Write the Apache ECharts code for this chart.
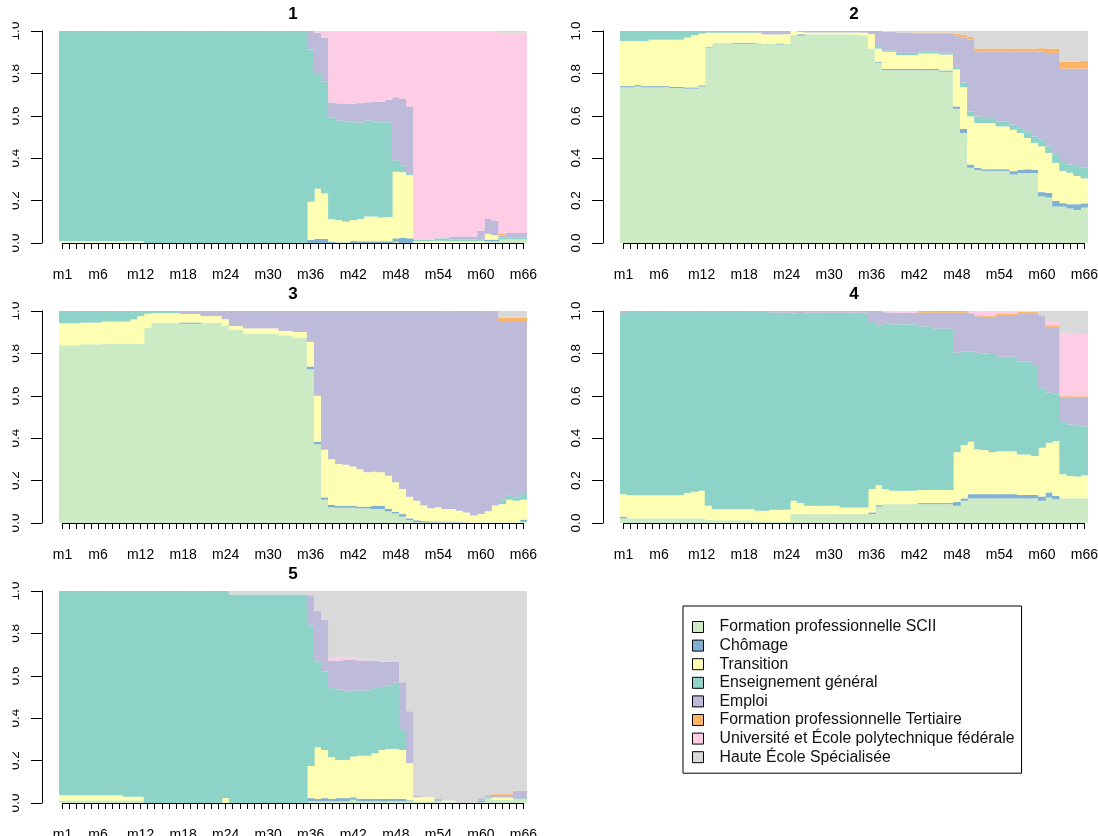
<!DOCTYPE html>
<html>
<head>
<meta charset="utf-8">
<script src="https://cdn.jsdelivr.net/npm/echarts@6/dist/echarts.min.js"></script>
<style>
html, body { margin: 0; padding: 0; background: #fff; }
#chart { width: 1098px; height: 836px; }
</style>
</head>
<body>
<div id="chart"></div>
<script>
// Monthly state distributions for five clusters of trajectories.
const months = ['m1','m2','m3','m4','m5','m6','m7','m8','m9','m10','m11',
  'm12','m13','m14','m15','m16','m17','m18','m19','m20','m21','m22',
  'm23','m24','m25','m26','m27','m28','m29','m30','m31','m32','m33',
  'm34','m35','m36','m37','m38','m39','m40','m41','m42','m43','m44',
  'm45','m46','m47','m48','m49','m50','m51','m52','m53','m54','m55',
  'm56','m57','m58','m59','m60','m61','m62','m63','m64','m65','m66'];

const states = ['Formation professionnelle SCII', 'Chômage', 'Transition', 'Enseignement général',
  'Emploi', 'Formation professionnelle Tertiaire', 'Université et École polytechnique fédérale',
  'Haute École Spécialisée'];
const stateColors = ['#CCEBC5', '#80B1D3', '#FFFFB3', '#8DD3C7', '#BEBADA', '#FDB462', '#FCCDE5', '#D9D9D9'];
const clusterTitles = ['1', '2', '3', '4', '5'];
const yTicks = [0, 0.2, 0.4, 0.6, 0.8, 1.0];

// ---- cluster 1 ----
const c1SCII = [
  .003,.003,.003,.003,.003,.003,.003,.003,.003,.003,.003,
  .003,0,0,0,0,0,0,0,0,0,0,
  0,0,0,0,0,0,0,0,0,0,0,
  0,0,0,0,0,0,0,0,0,0,0,
  0,0,0,.006,0,0,0,0,0,0,0,
  0,0,0,0,0,.008,.008,.016,.017,.017,.017];
const c1Chomage = [
  0,0,0,0,0,0,0,0,0,0,0,
  0,0,0,0,0,0,0,0,0,0,0,
  0,0,0,0,0,0,0,0,0,0,0,
  0,0,.015,.02,.019,.006,.003,.003,.009,.008,.008,
  .008,.008,.008,.016,.025,.022,0,0,0,0,0,
  0,0,0,0,0,.008,.008,0,0,0,0];
const c1Transition = [
  .006,.006,.006,.006,.006,.006,.006,.006,.006,.006,.006,
  .006,0,0,0,0,0,0,0,0,0,0,
  0,0,0,0,0,0,0,0,0,0,0,
  0,0,.18,.236,.215,.106,.105,.097,.1,.105,.117,
  .117,.112,.115,.314,.309,.298,.008,.008,.008,.01,.01,
  .008,.008,.008,.008,.01,.027,.02,0,0,0,0];
const c1Enseignement = [
  .991,.991,.991,.991,.991,.991,.991,.991,.991,.991,.991,
  .991,1,1,1,1,1,1,1,1,1,1,
  1,1,1,1,1,1,1,1,1,1,1,
  1,1,.718,.541,.527,.481,.47,.473,.461,.455,.453,
  .448,.45,.447,.054,.032,.005,.008,.008,.008,.012,.012,
  .008,.008,.008,.008,.008,0,0,.01,.01,.01,.01];
const c1Emploi = [
  0,0,0,0,0,0,0,0,0,0,0,
  0,0,0,0,0,0,0,0,0,0,0,
  0,0,0,0,0,0,0,0,0,0,0,
  0,0,.087,.195,.208,.07,.081,.083,.086,.092,.086,
  .094,.097,.105,.298,.314,.319,0,0,0,0,0,
  .015,.015,.015,.015,.04,.07,.07,.01,.02,.02,.02];
const c1Tertiaire = [
  0,0,0,0,0,0,0,0,0,0,0,
  0,0,0,0,0,0,0,0,0,0,0,
  0,0,0,0,0,0,0,0,0,0,0,
  0,0,0,0,0,0,0,0,0,0,0,
  0,0,0,0,0,0,0,0,0,0,0,
  0,0,0,0,0,0,0,.008,0,0,0];
const c1Universite = [
  0,0,0,0,0,0,0,0,0,0,0,
  0,0,0,0,0,0,0,0,0,0,0,
  0,0,0,0,0,0,0,0,0,0,0,
  0,0,0,.008,.031,.337,.341,.344,.344,.34,.336,
  .333,.333,.325,.312,.32,.356,.984,.984,.984,.978,.978,
  .969,.969,.969,.969,.942,.887,.894,.948,.945,.945,.945];
const c1HES = [
  0,0,0,0,0,0,0,0,0,0,0,
  0,0,0,0,0,0,0,0,0,0,0,
  0,0,0,0,0,0,0,0,0,0,0,
  0,0,0,0,0,0,0,0,0,0,0,
  0,0,0,0,0,0,0,0,0,0,0,
  0,0,0,0,0,0,0,.008,.008,.008,.008];

// ---- cluster 2 ----
const c2SCII = [
  .734,.734,.739,.734,.734,.734,.734,.731,.731,.728,.728,
  .738,.922,.945,.945,.945,.94,.94,.94,.945,.94,.94,
  .936,.94,.982,.978,.985,.985,.985,.985,.985,.985,.985,
  .983,.98,.917,.85,.815,.815,.815,.815,.815,.815,.815,
  .815,.808,.808,.633,.519,.355,.344,.34,.34,.34,.34,
  .323,.33,.33,.33,.22,.214,.172,.172,.163,.156,.167];
const c2Chomage = [
  .006,.006,.006,.006,.006,.006,.006,.006,.006,.006,.006,
  .006,.004,0,0,0,.005,.005,.005,0,0,0,
  .005,0,0,.007,0,0,0,0,0,0,0,
  0,0,0,.005,.006,.006,.006,.006,.006,.006,.006,
  .006,.006,.006,.011,.019,.015,.011,.008,.008,.008,.008,
  .016,.016,.018,.016,.02,.023,.027,.016,.02,.027,.02];
const c2Transition = [
  .213,.213,.208,.213,.219,.219,.219,.222,.222,.235,.246,
  .244,.066,.047,.047,.047,.047,.047,.047,.047,.044,.044,
  .043,.045,.018,.011,.008,.008,.008,.008,.008,.008,.008,
  .01,.012,.069,.062,.081,.081,.065,.065,.065,.073,.073,
  .073,.075,.075,.175,.197,.227,.211,.218,.218,.202,.202,
  .195,.173,.147,.126,.216,.188,.179,.152,.148,.133,.118];
const c2Enseignement = [
  .047,.047,.047,.047,.041,.041,.041,.041,.041,.031,.02,
  .012,.008,.008,.008,.008,.008,.008,.008,0,0,0,
  0,0,0,0,0,0,0,0,0,0,0,
  0,0,0,.013,.007,.007,.011,.011,.011,.008,.008,
  .008,.008,.008,.012,.022,.023,.031,.023,.023,.023,.023,
  .024,.023,.032,.031,.031,.031,.047,.047,.039,.047,.05];
const c2Emploi = [
  0,0,0,0,0,0,0,0,0,0,0,
  0,0,0,0,0,0,0,0,.008,.016,.016,
  .016,.015,0,.004,.007,.007,.007,.007,.007,.007,.007,
  .007,.008,.014,.07,.087,.087,.096,.096,.091,.086,.086,
  .086,.091,.091,.149,.213,.339,.305,.313,.313,.329,.329,
  .344,.36,.375,.399,.416,.441,.472,.436,.453,.46,.468];
const c2Tertiaire = [
  0,0,0,0,0,0,0,0,0,0,0,
  0,0,0,0,0,0,0,0,0,0,0,
  0,0,0,0,0,0,0,0,0,0,0,
  0,0,0,0,0,0,0,0,.005,.005,.005,
  .005,.005,.005,.008,.011,.013,.015,.015,.015,.015,.015,
  .015,.015,.015,.015,.016,.02,.02,.032,.032,.032,.036];
const c2Universite = [
  0,0,0,0,0,0,0,0,0,0,0,
  0,0,0,0,0,0,0,0,0,0,0,
  0,0,0,0,0,0,0,0,0,0,0,
  0,0,0,0,0,0,0,0,0,0,0,
  0,0,0,0,0,0,0,0,0,0,0,
  0,0,0,0,0,0,0,0,0,0,0];
const c2HES = [
  0,0,0,0,0,0,0,0,0,0,0,
  0,0,0,0,0,0,0,0,0,0,0,
  0,0,0,0,0,0,0,0,0,0,0,
  0,0,0,0,.004,.004,.007,.007,.007,.007,.007,
  .007,.007,.007,.012,.019,.028,.083,.083,.083,.083,.083,
  .083,.083,.083,.083,.081,.083,.083,.145,.145,.145,.141];

// ---- cluster 3 ----
const c3SCII = [
  .838,.838,.838,.843,.843,.843,.846,.846,.846,.846,.846,
  .846,.921,.945,.945,.945,.945,.94,.94,.94,.945,.945,
  .945,.929,.911,.911,.893,.893,.893,.893,.893,.885,.885,
  .874,.874,.725,.372,.11,.074,.072,.072,.072,.069,.069,
  .066,.066,.055,.045,.03,.013,.003,.003,.003,.003,.003,
  .003,.003,.003,0,.003,.003,.003,.003,.003,.003,.006];
const c3Chomage = [
  0,0,0,0,0,0,0,0,0,0,0,
  0,0,0,0,0,0,.006,.006,.006,0,0,
  0,0,0,0,0,0,0,0,0,0,0,
  0,0,.013,.011,.011,.011,.008,.008,.008,.008,.008,
  .016,.016,.012,.008,.012,.009,.01,.006,.005,.004,.004,
  .004,.003,0,0,0,0,0,0,0,0,.01];
const c3Transition = [
  .104,.104,.104,.102,.102,.102,.104,.104,.104,.104,.114,
  .13,.066,.045,.045,.045,.045,.04,.04,.04,.031,.031,
  .031,.032,.018,.018,.025,.025,.025,.025,.025,.021,.021,
  .027,.027,.116,.217,.224,.216,.198,.195,.187,.177,.162,
  .16,.157,.156,.139,.118,.102,.092,.073,.061,.067,.059,
  .059,.052,.047,.035,.039,.052,.079,.086,.107,.102,.094];
const c3Enseignement = [
  .058,.058,.058,.055,.055,.055,.05,.05,.05,.05,.04,
  .024,.013,.01,.01,.01,.01,0,0,0,0,0,
  0,0,0,0,0,0,0,0,0,0,0,
  0,0,0,0,0,0,0,0,0,0,0,
  0,0,0,0,0,0,0,0,0,0,0,
  0,0,0,0,0,0,0,.021,.019,.016,.027];
const c3Emploi = [
  0,0,0,0,0,0,0,0,0,0,0,
  0,0,0,0,0,0,.014,.014,.014,.024,.024,
  .024,.039,.071,.071,.082,.082,.082,.082,.082,.094,.094,
  .099,.099,.146,.4,.655,.699,.722,.725,.733,.746,.761,
  .758,.761,.777,.808,.84,.876,.895,.918,.931,.926,.929,
  .929,.942,.95,.965,.958,.94,.913,.843,.824,.832,.816];
const c3Tertiaire = [
  0,0,0,0,0,0,0,0,0,0,0,
  0,0,0,0,0,0,0,0,0,0,0,
  0,0,0,0,0,0,0,0,0,0,0,
  0,0,0,0,0,0,0,0,0,0,0,
  0,0,0,0,0,0,0,0,0,0,.005,
  .005,0,0,0,0,.005,.005,.016,.016,.016,.016];
const c3Universite = [
  0,0,0,0,0,0,0,0,0,0,0,
  0,0,0,0,0,0,0,0,0,0,0,
  0,0,0,0,0,0,0,0,0,0,0,
  0,0,0,0,0,0,0,0,0,0,0,
  0,0,0,0,0,0,0,0,0,0,0,
  0,0,0,0,0,0,0,0,0,0,0];
const c3HES = [
  0,0,0,0,0,0,0,0,0,0,0,
  0,0,0,0,0,0,0,0,0,0,0,
  0,0,0,0,0,0,0,0,0,0,0,
  0,0,0,0,0,0,0,0,0,0,0,
  0,0,0,0,0,0,0,0,0,0,0,
  0,0,0,0,0,0,0,.031,.031,.031,.031];

// ---- cluster 4 ----
const c4SCII = [
  .022,.022,.022,.022,.022,.022,.022,.022,.022,.022,.022,
  .022,.016,.013,.013,.013,.013,.013,.013,.008,.008,.006,
  .006,.006,.042,.042,.042,.042,.042,.042,.042,.042,.042,
  .042,.042,.042,.077,.089,.089,.089,.089,.089,.089,.089,
  .089,.089,.089,.081,.105,.116,.116,.116,.116,.116,.116,
  .116,.116,.116,.116,.105,.12,.112,.117,.117,.117,.117];
const c4Chomage = [
  .008,0,0,0,0,0,0,0,0,0,0,
  0,0,0,0,0,0,0,0,0,0,0,
  0,0,0,0,0,0,0,0,0,0,0,
  0,0,.008,.007,0,0,0,0,0,.005,.005,
  .005,.005,.005,.019,.011,.02,.02,.02,.02,.02,.02,
  .02,.016,.016,.016,.02,.024,.016,0,0,0,0];
const c4Transition = [
  .106,.109,.109,.109,.109,.109,.109,.109,.109,.119,.125,
  .13,.065,.053,.053,.053,.053,.053,.053,.05,.05,.056,
  .056,.056,.063,.052,.039,.039,.039,.039,.039,.031,.031,
  .031,.031,.109,.094,.07,.063,.063,.063,.063,.062,.062,
  .062,.062,.062,.234,.251,.247,.211,.208,.198,.203,.203,
  .203,.191,.191,.184,.23,.234,.258,.113,.105,.102,.108];
const c4Enseignement = [
  .855,.869,.869,.869,.869,.869,.869,.869,.869,.859,.853,
  .848,.919,.934,.934,.934,.934,.934,.934,.942,.942,.93,
  .93,.93,.883,.896,.911,.911,.911,.911,.911,.919,.919,
  .919,.919,.789,.755,.785,.786,.786,.786,.786,.772,.772,
  .761,.761,.761,.469,.441,.425,.456,.456,.463,.445,.445,
  .445,.438,.438,.429,.281,.238,.226,.25,.242,.24,.231];
const c4Emploi = [
  .009,0,0,0,0,0,0,0,0,0,0,
  0,0,0,0,0,0,0,0,0,0,.008,
  .008,.008,.012,.01,.008,.008,.008,.008,.008,.008,.008,
  .008,.008,.052,.067,.05,.054,.054,.054,.054,.064,.064,
  .075,.075,.075,.189,.184,.18,.172,.172,.176,.197,.197,
  .197,.229,.229,.245,.344,.309,.313,.11,.126,.131,.134];
const c4Tertiaire = [
  0,0,0,0,0,0,0,0,0,0,0,
  0,0,0,0,0,0,0,0,0,0,0,
  0,0,0,0,0,0,0,0,0,0,0,
  0,0,0,0,0,0,0,0,0,.008,.008,
  .008,.008,.008,.008,.008,.004,.005,.005,.005,.005,.005,
  .005,.005,.005,.005,0,.008,.008,.008,.008,.008,.008];
const c4Universite = [
  0,0,0,0,0,0,0,0,0,0,0,
  0,0,0,0,0,0,0,0,0,0,0,
  0,0,0,0,0,0,0,0,0,0,0,
  0,0,0,0,.006,.008,.008,.008,.008,0,0,
  0,0,0,0,0,.008,.02,.023,.022,.014,.014,
  .014,.005,.005,.005,0,.02,.02,.299,.299,.296,.293];
const c4HES = [
  0,0,0,0,0,0,0,0,0,0,0,
  0,0,0,0,0,0,0,0,0,0,0,
  0,0,0,0,0,0,0,0,0,0,0,
  0,0,0,0,0,0,0,0,0,0,0,
  0,0,0,0,0,0,0,0,0,0,0,
  0,0,0,0,.02,.047,.047,.103,.103,.106,.109];

// ---- cluster 5 ----
const c5SCII = [
  .012,.012,.012,.012,.012,.012,.012,.012,.012,.012,.012,
  .012,0,0,0,0,0,0,0,0,0,0,
  0,0,0,0,0,0,0,0,0,0,0,
  0,0,.008,.008,.008,.008,.008,.008,.016,.008,.008,
  .008,.008,.008,.008,.008,.008,.008,.008,.008,.008,.005,
  .005,0,0,0,.004,.023,.015,.015,.015,.021,.021];
const c5Chomage = [
  0,0,0,0,0,0,0,0,0,0,0,
  0,0,0,0,0,0,0,0,0,0,0,
  0,0,0,0,0,0,0,0,0,0,0,
  0,0,.015,.011,.015,.012,.015,.015,.011,.012,.012,
  .012,.011,.011,.012,.012,.005,0,0,0,0,0,
  0,0,0,0,.008,0,0,0,0,.006,.006];
const c5Transition = [
  .024,.024,.024,.024,.024,.024,.024,.024,.024,.018,.018,
  .018,0,0,0,0,0,0,0,0,0,0,
  0,.023,0,0,0,0,0,0,0,0,0,
  0,0,.152,.244,.227,.196,.18,.18,.192,.203,.203,
  .214,.231,.236,.235,.23,.175,.019,.019,.019,0,.006,
  .006,0,0,0,0,0,.011,.011,.011,0,0];
const c5Enseignement = [
  .964,.964,.964,.964,.964,.964,.964,.964,.964,.965,.965,
  .965,1,1,1,1,1,1,1,1,1,1,
  1,.977,.984,.984,.984,.984,.984,.984,.984,.984,.984,
  .984,.984,.664,.404,.37,.326,.333,.324,.312,.308,.308,
  .308,.297,.3,.312,.094,0,0,0,0,0,0,
  0,0,0,0,0,.008,0,0,0,0,0];
const c5Emploi = [
  0,0,0,0,0,0,0,0,0,.005,.005,
  .005,0,0,0,0,0,0,0,0,0,0,
  0,0,0,0,0,0,0,0,0,0,0,
  0,0,.141,.239,.244,.13,.136,.15,.146,.141,.141,
  .13,.12,.112,.1,.226,.245,.009,0,0,.011,0,
  0,0,0,0,.011,.008,.013,.013,.013,.025,.025];
const c5Tertiaire = [
  0,0,0,0,0,0,0,0,0,0,0,
  0,0,0,0,0,0,0,0,0,0,0,
  0,0,0,0,0,0,0,0,0,0,0,
  0,0,0,0,0,0,0,0,0,0,0,
  0,0,0,0,0,0,0,0,0,0,0,
  0,0,0,0,0,0,.006,.006,.006,.006,.006];
const c5Universite = [
  0,0,0,0,0,0,0,0,0,0,0,
  0,0,0,0,0,0,0,0,0,0,0,
  0,0,0,0,0,0,0,0,0,0,0,
  0,0,0,0,0,.011,.015,.011,.011,.008,.008,
  0,0,0,0,0,0,0,0,0,0,0,
  0,0,0,0,0,0,0,0,0,0,0];
const c5HES = [
  0,0,0,0,0,0,0,0,0,0,0,
  0,0,0,0,0,0,0,0,0,0,0,
  0,0,.016,.016,.016,.016,.016,.016,.016,.016,.016,
  .016,.016,.02,.094,.136,.317,.313,.312,.312,.32,.32,
  .328,.333,.333,.333,.43,.567,.964,.973,.973,.981,.989,
  .989,1,1,1,.977,.961,.955,.955,.955,.942,.942];

const clusters = [
  [c1SCII, c1Chomage, c1Transition, c1Enseignement, c1Emploi, c1Tertiaire, c1Universite, c1HES],
  [c2SCII, c2Chomage, c2Transition, c2Enseignement, c2Emploi, c2Tertiaire, c2Universite, c2HES],
  [c3SCII, c3Chomage, c3Transition, c3Enseignement, c3Emploi, c3Tertiaire, c3Universite, c3HES],
  [c4SCII, c4Chomage, c4Transition, c4Enseignement, c4Emploi, c4Tertiaire, c4Universite, c4HES],
  [c5SCII, c5Chomage, c5Transition, c5Enseignement, c5Emploi, c5Tertiaire, c5Universite, c5HES]
];

// ---- layout ----
const FONT = "'Liberation Sans', Arial, Helvetica, sans-serif";
const PLOT_W = 468, PLOT_H = 212;
const panelPos = [
  { left: 59, top: 31 }, { left: 620, top: 31 },
  { left: 59, top: 311 }, { left: 620, top: 311 },
  { left: 59, top: 591 }
];

const grids = [], xAxes = [], yAxes = [], series = [], graphics = [];
const colW = PLOT_W / months.length;

clusters.forEach((values, p) => {
  const pos = panelPos[p];
  const barIdx = 2 * p, axIdx = 2 * p + 1;

  // grid holding the stacked bars
  grids.push({ left: pos.left, top: pos.top, width: PLOT_W, height: PLOT_H,
    containLabel: false, outerBoundsMode: 'none' });
  // grid whose x axis runs from the first to the last bar centre
  grids.push({ left: pos.left + colW / 2, top: pos.top, width: PLOT_W - colW, height: PLOT_H,
    containLabel: false, outerBoundsMode: 'none' });

  xAxes.push({ gridIndex: barIdx, type: 'category', data: months, boundaryGap: true, show: false });
  yAxes.push({
    gridIndex: barIdx, type: 'value', min: yTicks[0], max: yTicks[yTicks.length - 1], interval: 0.2,
    offset: 17,
    axisLine: { show: true, lineStyle: { color: '#000', width: 1 } },
    axisTick: { show: true, length: 11, lineStyle: { color: '#000', width: 1 } },
    splitLine: { show: false },
    axisLabel: {
      rotate: 90, margin: 20, fontSize: 13.5, lineHeight: 14, color: '#000', fontFamily: FONT,
      formatter: v => v.toFixed(1)
    }
  });

  xAxes.push({
    gridIndex: axIdx, type: 'category', data: months, boundaryGap: false, offset: 6,
    axisLine: { show: true, lineStyle: { color: '#000', width: 1 } },
    axisTick: { show: true, interval: 0, length: 6, lineStyle: { color: '#000', width: 1 } },
    splitLine: { show: false },
    axisLabel: {
      interval: i => i === 0 || (i + 1) % 6 === 0,
      margin: 19, fontSize: 14, lineHeight: 14, color: '#000', fontFamily: FONT
    }
  });
  yAxes.push({ gridIndex: axIdx, type: 'value', min: 0, max: 1, show: false });

  states.forEach((name, s) => {
    series.push({
      name: name, type: 'bar', stack: 'cluster' + p,
      xAxisIndex: barIdx, yAxisIndex: barIdx,
      data: values[s],
      // slightly wider than a category so neighbouring months join without hairline gaps
      barWidth: colW + 0.7,
      itemStyle: { color: stateColors[s] },
      emphasis: { disabled: true }, silent: true
    });
  });

  graphics.push({
    type: 'text', x: pos.left + PLOT_W / 2, y: pos.top - 17, z: 10,
    style: {
      text: clusterTitles[p], fill: '#000', fontSize: 17, fontWeight: 'bold', fontFamily: FONT,
      align: 'center', verticalAlign: 'middle', textAlign: 'center', textVerticalAlign: 'middle'
    }
  });
});

// left figure margin trims the y tick labels of the left column
graphics.push({ type: 'rect', z: 100, shape: { x: 0, y: 0, width: 12.5, height: 836 },
  style: { fill: '#fff' } });

const chart = echarts.init(document.getElementById('chart'), null, { renderer: 'canvas' });
chart.setOption({
  animation: false,
  backgroundColor: '#fff',
  textStyle: { fontFamily: FONT },
  grid: grids,
  xAxis: xAxes,
  yAxis: yAxes,
  series: series,
  graphic: graphics,
  legend: {
    data: states, orient: 'vertical', left: 683, top: 606,
    padding: [13, 7, 8, 9], itemGap: 2.6, itemWidth: 11, itemHeight: 11, icon: 'rect',
    borderColor: '#000', borderWidth: 1, backgroundColor: '#fff',
    selectedMode: false,
    itemStyle: { borderColor: '#000', borderWidth: 1 },
    textStyle: { fontSize: 15.8, lineHeight: 16, color: '#111', fontFamily: FONT, padding: [0, 0, 0, 11] }
  }
});
</script>
</body>
</html>
